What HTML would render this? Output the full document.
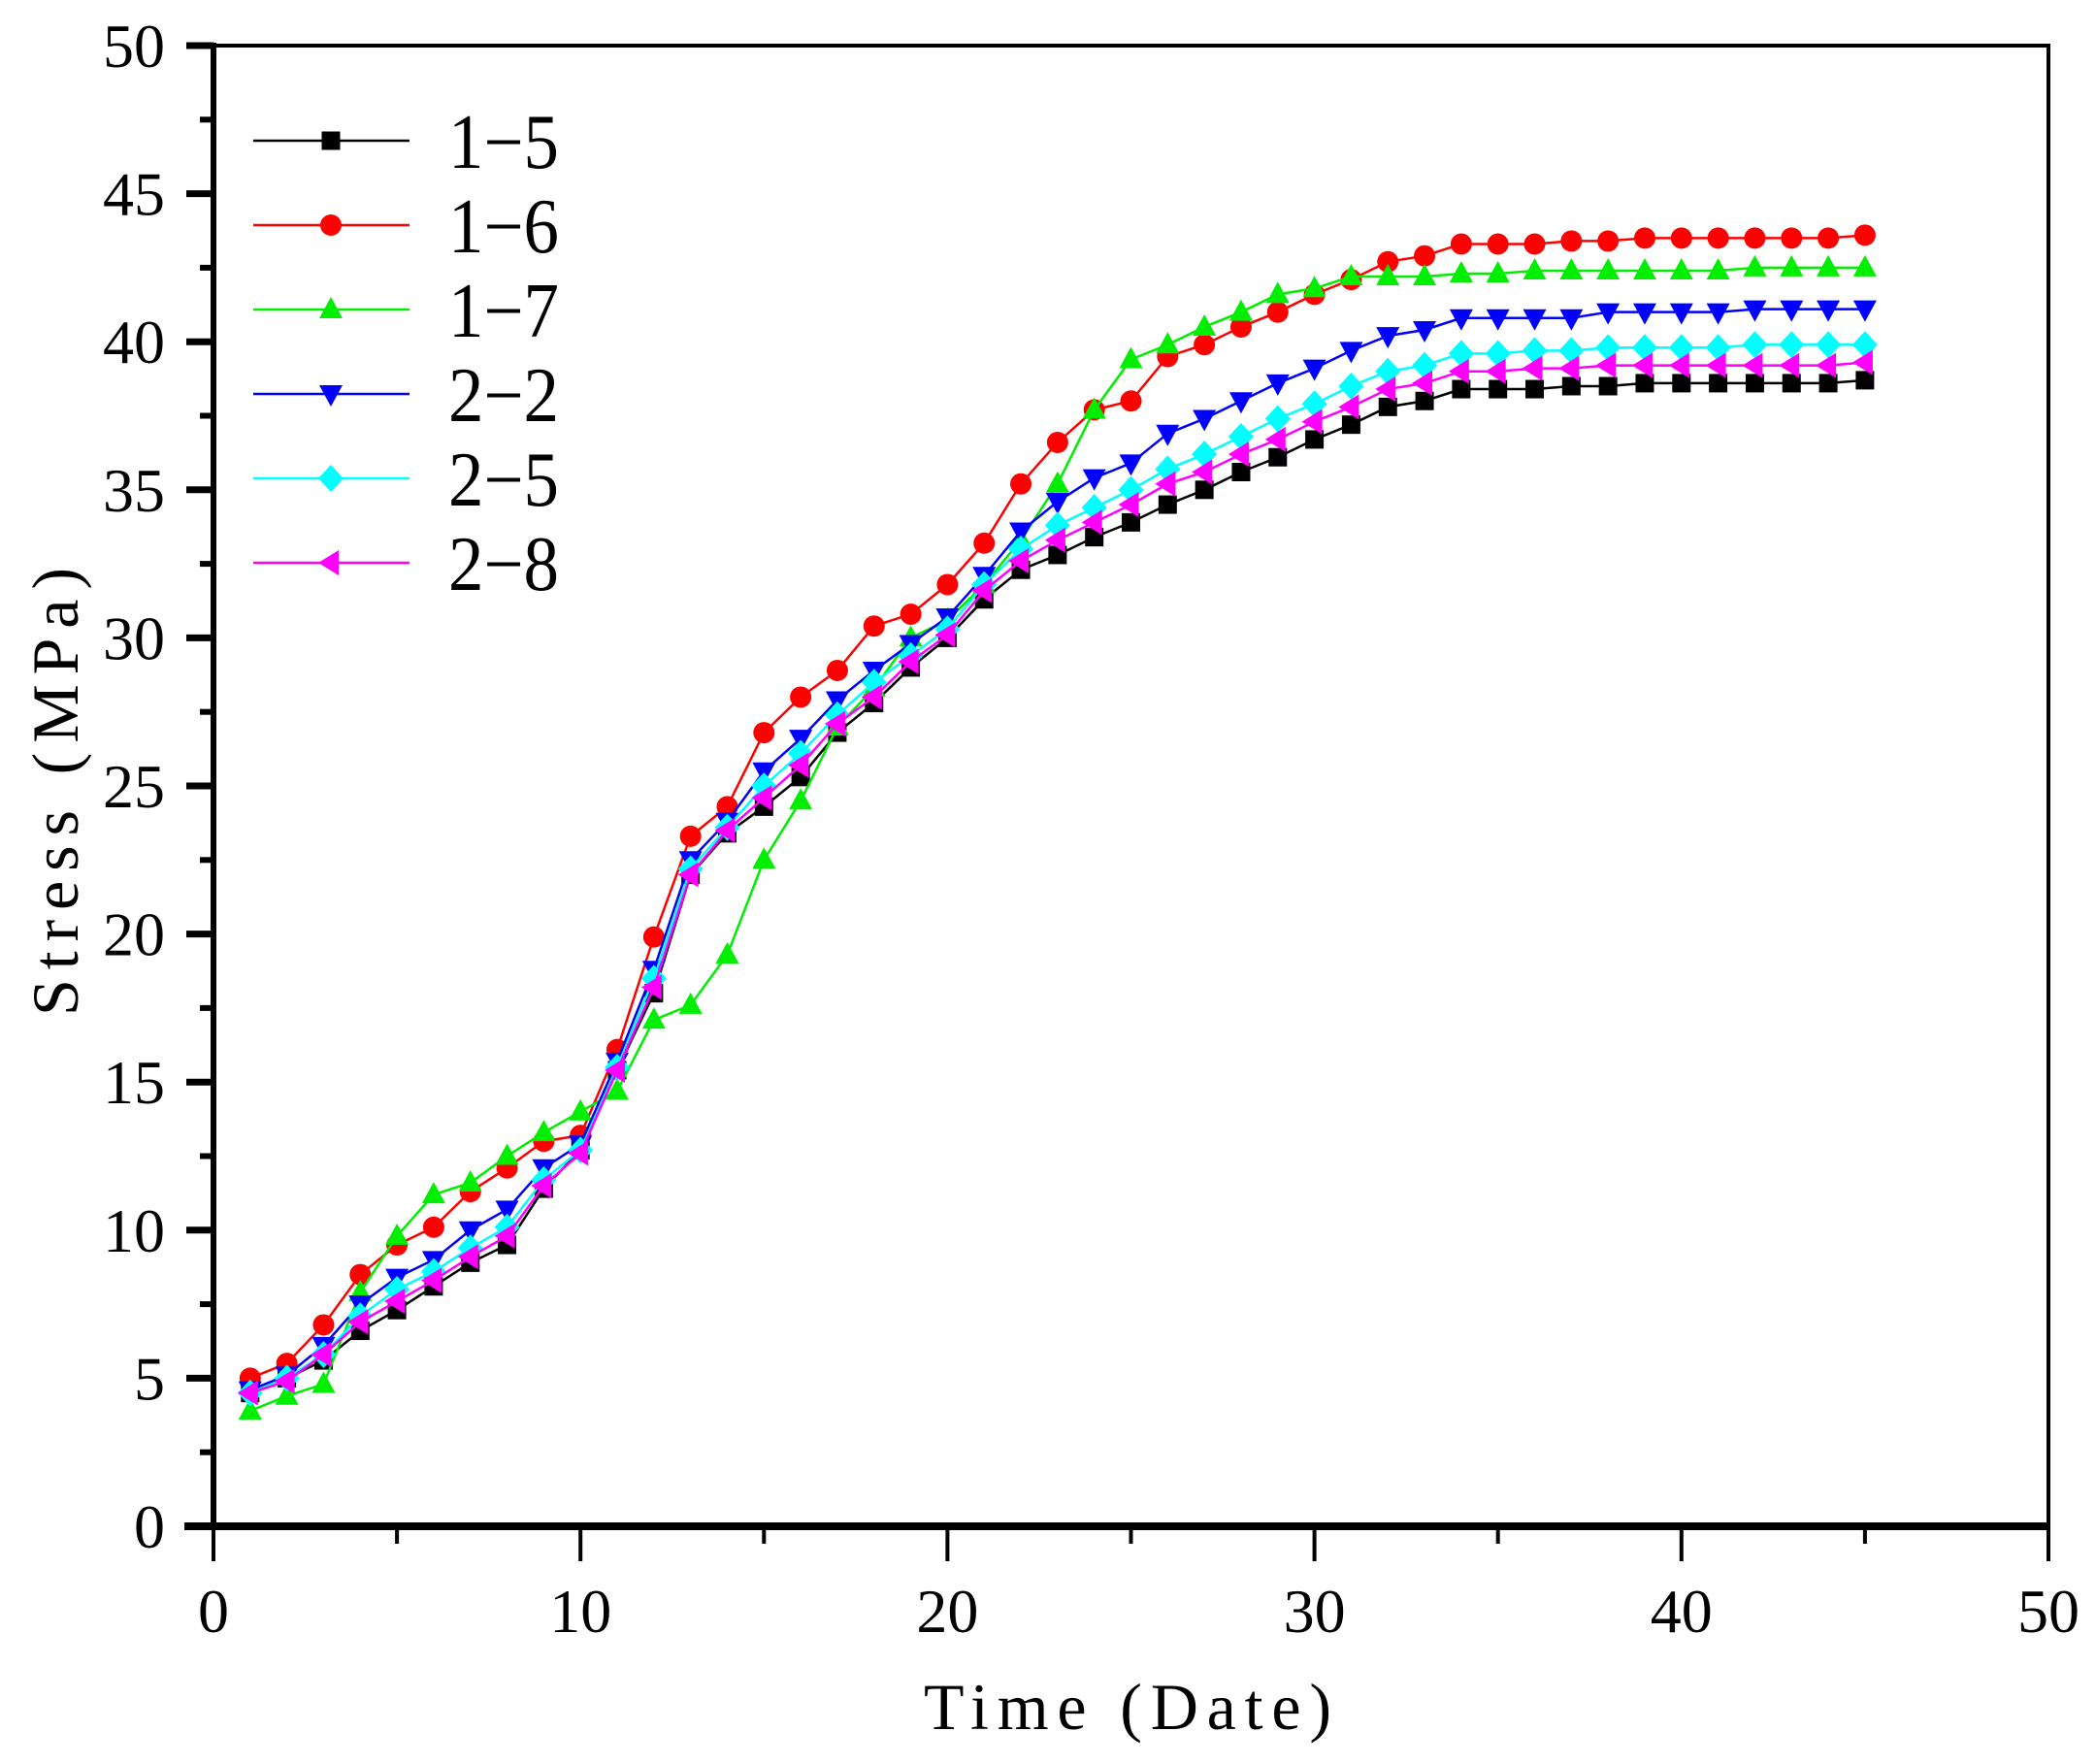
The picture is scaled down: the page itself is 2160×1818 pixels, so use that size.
<!DOCTYPE html>
<html><head><meta charset="utf-8"><style>
html,body{margin:0;padding:0;background:#fff;}
svg{display:block;font-family:"Liberation Serif","Noto Serif CJK SC",serif;}
</style></head><body>
<svg id="chart" width="2160" height="1818" viewBox="0 0 2160 1818" xmlns="http://www.w3.org/2000/svg">
<g id="grid"></g>
<g id="series"></g>
<g id="legend"></g>
<text x="1162" y="1782" font-size="68" text-anchor="middle" textLength="420" lengthAdjust="spacing">Time (Date)</text>
<text x="0" y="0" font-size="68" text-anchor="middle" textLength="462" lengthAdjust="spacing" transform="translate(80 816) rotate(-90)">Stress (MPa)</text>
</svg>
<script>
const seriesNames = ["1-5","1-6","1-7","2-2","2-5","2-8"];
const days = Array.from({length:45},(_,i)=>i+1);
const s15 = [4.5,5.0,5.6,6.6,7.3,8.1,8.9,9.5,11.4,12.7,15.4,18.0,22.0,23.4,24.3,25.3,26.8,27.8,29.0,30.0,31.3,32.3,32.8,33.4,33.9,34.5,35.0,35.6,36.1,36.7,37.2,37.8,38.0,38.4,38.4,38.4,38.5,38.5,38.6,38.6,38.6,38.6,38.6,38.6,38.7];
const s16 = [5.0,5.5,6.8,8.5,9.5,10.1,11.3,12.1,13.0,13.2,16.1,19.9,23.3,24.3,26.8,28.0,28.9,30.4,30.8,31.8,33.2,35.2,36.6,37.7,38.0,39.5,39.9,40.5,41.0,41.6,42.1,42.7,42.9,43.3,43.3,43.3,43.4,43.4,43.5,43.5,43.5,43.5,43.5,43.5,43.6];
const s17 = [3.9,4.4,4.8,7.9,9.8,11.2,11.6,12.5,13.3,14.0,14.7,17.1,17.6,19.3,22.5,24.5,27.0,28.3,30.0,30.6,31.8,33.3,35.2,37.7,39.4,39.9,40.5,41.0,41.6,41.8,42.2,42.2,42.2,42.3,42.3,42.4,42.4,42.4,42.4,42.4,42.4,42.5,42.5,42.5,42.5];
const s22 = [4.6,5.1,6.1,7.5,8.4,9.0,10.0,10.7,12.1,12.9,15.7,18.8,22.5,23.8,25.5,26.6,27.9,28.9,29.8,30.7,32.1,33.6,34.6,35.4,35.9,36.9,37.4,38.0,38.6,39.1,39.7,40.2,40.4,40.8,40.8,40.8,40.8,41.0,41.0,41.0,41.0,41.1,41.1,41.1,41.1];
const s25 = [4.5,5.0,5.8,7.1,8.0,8.6,9.4,10.1,11.7,12.7,15.5,18.5,22.2,23.6,25.0,26.1,27.4,28.5,29.4,30.3,31.8,33.0,33.8,34.4,35.0,35.7,36.2,36.8,37.4,37.9,38.5,39.0,39.2,39.6,39.6,39.7,39.7,39.8,39.8,39.8,39.8,39.9,39.9,39.9,39.9];
const s28 = [4.5,4.9,5.8,6.9,7.6,8.3,9.1,9.8,11.5,12.6,15.4,18.2,22.0,23.5,24.6,25.7,27.1,28.0,29.2,30.1,31.6,32.6,33.3,33.9,34.5,35.2,35.6,36.2,36.7,37.3,37.8,38.4,38.6,39.0,39.0,39.1,39.1,39.2,39.2,39.2,39.2,39.2,39.2,39.2,39.3];
const xTicks = [0,10,20,30,40,50];
const yTicks = [0,5,10,15,20,25,30,35,40,45,50];

const allSeries=[s15,s16,s17,s22,s25,s28];
const colors=["#000000","#ff0000","#00ee00","#0000ff","#00ffff","#ff00ff"];
const markers=["square","circle","up","down","diamond","left"];
const X0=220,X1=2111,Y0=1573,Y1=47;
const xs=v=>X0+(v-0)/(50-0)*(X1-X0);
const ys=v=>Y0-(v-0)/(50-0)*(Y0-Y1);
const NS="http://www.w3.org/2000/svg";
function mk(tag,attrs,parent){const e=document.createElementNS(NS,tag);for(const k in attrs)e.setAttribute(k,attrs[k]);parent.appendChild(e);return e;}
const grid=document.getElementById('grid');
let f=mk('rect',{x:X0,y:Y1,width:X1-X0,height:Y0-Y1,fill:'none',stroke:'#000','stroke-width':4},grid);


let la=mk('line',{x1:X0,y1:Y1-3,x2:X0,y2:Y0+3,stroke:'#000','stroke-width':6},grid);


let ba=mk('line',{x1:X0-30,y1:Y0,x2:X1+2,y2:Y0,stroke:'#000','stroke-width':8},grid);


for(let v=0;v<=50;v+=2.5){
  const major=v%5===0;const y=ys(v);
  const t=mk('line',{x1:X0-(major?28:14),y1:y,x2:X0,y2:y,stroke:'#000','stroke-width':major?7:6},grid);
  
  
}
yTicks.forEach(v=>{
  const t=mk('text',{x:170,y:ys(v)+22,'font-size':64,'text-anchor':'end'},grid);
  t.textContent=v;
  
  
});
for(let v=0;v<=50;v+=5){
  const major=v%10===0;const x=xs(v);
  const t=mk('line',{x1:x,y1:Y0,x2:x,y2:Y0+(major?36:18),stroke:'#000','stroke-width':4},grid);
  
  
}
xTicks.forEach(v=>{
  const t=mk('text',{x:xs(v),y:1682,'font-size':64,'text-anchor':'middle'},grid);
  t.textContent=v;
  
  
});
function marker(type,x,y,c,parent){
  let e;
  if(type==='square')e=mk('rect',{x:x-9.5,y:y-9.5,width:19,height:19,fill:c},parent);
  else if(type==='circle')e=mk('circle',{cx:x,cy:y,r:11,fill:c},parent);
  else if(type==='up')e=mk('polygon',{points:`${x},${y-13} ${x-12},${y+9} ${x+12},${y+9}`,fill:c},parent);
  else if(type==='down')e=mk('polygon',{points:`${x},${y+13} ${x-12},${y-9} ${x+12},${y-9}`,fill:c},parent);
  else if(type==='diamond')e=mk('polygon',{points:`${x},${y-14} ${x+13},${y} ${x},${y+14} ${x-13},${y}`,fill:c},parent);
  else e=mk('polygon',{points:`${x-13},${y} ${x+8},${y-13} ${x+8},${y+13}`,fill:c},parent);
  return e;
}
const sg=document.getElementById('series');
allSeries.forEach((data,si)=>{
  const g=mk('g',{},sg);
  
  
  const pts=data.map((v,i)=>xs(days[i])+','+ys(v)).join(' ');
  const pl=mk('polyline',{points:pts,fill:'none',stroke:colors[si],'stroke-width':2.5},g);
  
  
  data.forEach((v,i)=>{
    const m=marker(markers[si],xs(days[i]),ys(v),colors[si],g);
    
    
  });
});
const lg=document.getElementById('legend');
seriesNames.forEach((n,i)=>{
  const y=145+i*87;
  const g=mk('g',{},lg);
  
  
  mk('line',{x1:261,y1:y,x2:422,y2:y,stroke:colors[i],'stroke-width':2.5},g);
  marker(markers[i],341,y,colors[i],g);
  const t=mk('text',{x:462,y:y+28,'font-size':80,textLength:114,lengthAdjust:'spacingAndGlyphs'},g);
  t.textContent=n.replace('-','\u2212');
});
</script>
</body></html>
